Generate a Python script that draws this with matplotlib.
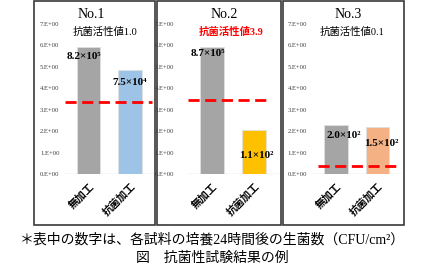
import numpy as np
import matplotlib
matplotlib.use("Agg")
import matplotlib.pyplot as plt
from matplotlib.patches import Rectangle

# --- datos ---
paneles = ["No.1", "No.2", "No.3"]
categorias = ["無加工", "抗菌加工"]
actividad = ["抗菌活性値1.0", "抗菌活性値3.9", "抗菌活性値0.1"]
conteos = [[8.2e5, 7.5e4], [8.7e5, 1.1e2], [2.0e2, 1.5e2]]
etiquetas = [["8.2×10⁵", "7.5×10⁴"], ["8.7×10⁵", "1.1×10²"], ["2.0×10²", "1.5×10²"]]
umbral = [3.36, 3.46, 0.37]
yticks = [0, 1, 2, 3, 4, 5, 6, 7]
ytick_labels = [f"{v}.E+00" for v in yticks]
nota = "＊表中の数字は、各試料の培養24時間後の生菌数（CFU/cm²）"
titulo = "図　抗菌性試験結果の例"

# --- estilo / layout ---
W, H = 425, 276
colores = [["#A5A5A5", "#9DC3E6"], ["#A5A5A5", "#FFC000"], ["#A5A5A5", "#F4B183"]]
marcos = [(34, 155), (157, 281), (283, 404)]
centro0 = [88.5, 212, 336]
paso = [41.5, 42, 41.5]
pad_ticks = [3, 9, 3]
tramo_umbral = [(-0.57, 1.53), (-0.57, 1.33), (-0.43, 1.48)]
tit_x = [91, 224, 348]
act_x = [105, 231, 352]
# desplazamiento de etiquetas en pixeles (negativo = hacia abajo)
desplaz = [[(-5, -9), (0, -13)], [(-4.5, -7), (2, -25)], [(7.5, -11), (4, -16)]]
serif_cjk = ["Liberation Serif", "Noto Sans CJK JP", "DejaVu Serif"]

y0_px, y7_px = 174, 24


def fx(x):
    return x / W


def fy(y):
    return 1 - y / H


fig = plt.figure(figsize=(W / 100, H / 100), dpi=100)
fig.patch.set_facecolor("white")

for i in range(3):
    # marco del panel
    x0, x1 = marcos[i]
    fig.patches.append(Rectangle((fx(x0), fy(225)), fx(x1 - x0), (225 - 1) / H,
                                 transform=fig.transFigure, fill=False,
                                 edgecolor="#3a3a3a", linewidth=1.2))

    izq = centro0[i] - 0.6 * paso[i]
    ancho = 2.2 * paso[i]
    ax = fig.add_axes([fx(izq), fy(y0_px), fx(ancho), (y0_px - y7_px) / H])
    valores = np.log10(conteos[i])
    xs = np.arange(len(categorias))
    ax.bar(xs, valores, width=0.56, color=colores[i], edgecolor="#E0E0E0",
           linewidth=0.6, zorder=2)
    ax.axhline(0, color="#D9D9D9", linewidth=1, zorder=1)
    a, b = tramo_umbral[i]
    ax.plot([a, b], [umbral[i], umbral[i]], color="#FF0000", linewidth=2,
            dashes=(4, 2), zorder=3, clip_on=False)
    ax.set_xlim(-0.6, 1.6)
    ax.set_ylim(0, 7)
    ax.set_yticks(yticks)
    ax.set_yticklabels(ytick_labels, fontsize=4.8, family="Liberation Serif",
                       color="#404040")
    ax.set_xticks(xs)
    ax.set_xticklabels(categorias, rotation=45, ha="right",
                       rotation_mode="anchor", fontsize=7.5, fontweight="bold",
                       family=["Noto Sans CJK JP", "DejaVu Sans"])
    ax.tick_params(axis="y", length=0, pad=pad_ticks[i])
    ax.tick_params(axis="x", length=0, pad=5)
    for s in ax.spines.values():
        s.set_visible(False)
    ax.patch.set_alpha(0)

    for j in range(len(categorias)):
        dx, dy = desplaz[i][j]
        ax.annotate(etiquetas[i][j], xy=(xs[j], valores[j]),
                    xytext=(dx, dy), textcoords="offset pixels",
                    ha="center", va="center", fontsize=8, fontweight="bold",
                    family=["Liberation Serif", "DejaVu Serif"], zorder=4)

    # titulos
    fig.text(fx(tit_x[i]), fy(14), paneles[i], ha="center", va="center",
             fontsize=10, family=["Liberation Serif", "DejaVu Serif"])
    rojo = i == 1
    fig.text(fx(act_x[i]), fy(32), actividad[i], ha="center", va="center",
             fontsize=7.5, family=serif_cjk,
             color="#FF0000" if rojo else "black",
             fontweight="bold" if rojo else "normal")

fig.text(0.5, fy(240), nota, ha="center", va="center", fontsize=10,
         family=serif_cjk)
fig.text(0.5, fy(258), titulo, ha="center", va="center", fontsize=10,
         family=["Noto Sans CJK JP", "DejaVu Sans"])

fig.savefig("out.png", dpi=100)
